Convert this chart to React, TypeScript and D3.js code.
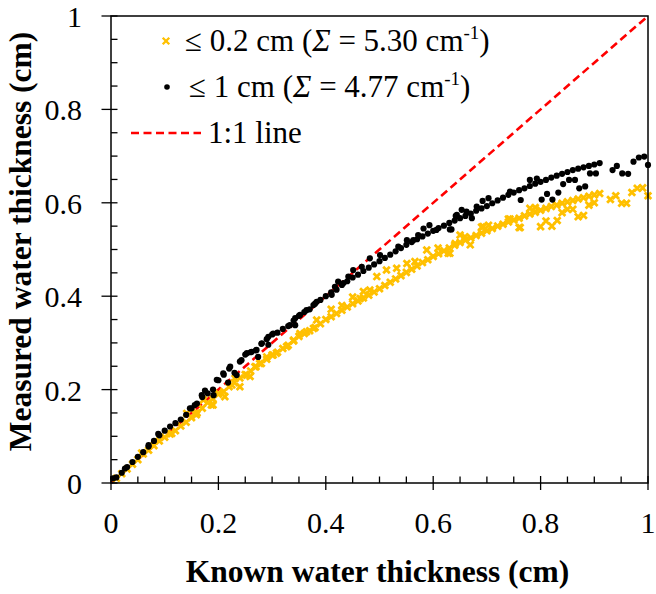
import React from "react";
import * as d3 from "d3";

// ---------- data ----------
const knownThickness = [
  0.01, 0.02, 0.03, 0.04, 0.05, 0.06, 0.07, 0.08, 0.09, 0.1,
  0.11, 0.12, 0.13, 0.14, 0.15, 0.16, 0.17, 0.18, 0.19, 0.2,
  0.21, 0.22, 0.23, 0.24, 0.25, 0.26, 0.27, 0.28, 0.29, 0.3,
  0.31, 0.32, 0.33, 0.34, 0.35, 0.36, 0.37, 0.38, 0.39, 0.4,
  0.41, 0.42, 0.43, 0.44, 0.45, 0.46, 0.47, 0.48, 0.49, 0.5,
  0.51, 0.52, 0.53, 0.54, 0.55, 0.56, 0.57, 0.58, 0.59, 0.6,
  0.61, 0.62, 0.63, 0.64, 0.65, 0.66, 0.67, 0.68, 0.69, 0.7,
  0.71, 0.72, 0.73, 0.74, 0.75, 0.76, 0.77, 0.78, 0.79, 0.8,
  0.81, 0.82, 0.83, 0.84, 0.85, 0.86, 0.87, 0.88, 0.89, 0.9,
  0.91,
];

// <= 0.2 cm calibration (yellow)
const measuredFine = [
  0.010, 0.020, 0.030, 0.040, 0.050, 0.062, 0.070, 0.080, 0.090, 0.098,
  0.105, 0.112, 0.122, 0.130, 0.140, 0.150, 0.160, 0.172, 0.180, 0.190,
  0.196, 0.206, 0.215, 0.225, 0.232, 0.240, 0.249, 0.256, 0.265, 0.274,
  0.280, 0.288, 0.295, 0.304, 0.314, 0.320, 0.326, 0.333, 0.341, 0.350,
  0.356, 0.363, 0.370, 0.377, 0.384, 0.390, 0.396, 0.402, 0.409, 0.416,
  0.423, 0.430, 0.437, 0.444, 0.451, 0.458, 0.465, 0.472, 0.478, 0.485,
  0.491, 0.497, 0.503, 0.509, 0.515, 0.520, 0.525, 0.530, 0.535, 0.540,
  0.545, 0.550, 0.554, 0.559, 0.563, 0.567, 0.572, 0.576, 0.580, 0.584,
  0.588, 0.592, 0.595, 0.599, 0.602, 0.605, 0.608, 0.611, 0.614, 0.617,
  0.620,
];

// <= 1 cm calibration (black)
const measuredCoarse = [
  0.012, 0.022, 0.034, 0.045, 0.056, 0.066, 0.078, 0.090, 0.102, 0.112,
  0.121, 0.128, 0.136, 0.146, 0.160, 0.170, 0.184, 0.192, 0.200, 0.220,
  0.232, 0.245, 0.236, 0.260, 0.275, 0.280, 0.284, 0.298, 0.308, 0.318,
  0.322, 0.330, 0.336, 0.348, 0.358, 0.366, 0.372, 0.384, 0.392, 0.400,
  0.408, 0.414, 0.424, 0.432, 0.440, 0.446, 0.454, 0.461, 0.468, 0.475,
  0.482, 0.489, 0.496, 0.503, 0.510, 0.516, 0.522, 0.528, 0.534, 0.540,
  0.546, 0.551, 0.557, 0.562, 0.567, 0.572, 0.577, 0.583, 0.588, 0.593,
  0.599, 0.605, 0.611, 0.617, 0.622, 0.627, 0.631, 0.636, 0.641, 0.645,
  0.649, 0.654, 0.658, 0.662, 0.666, 0.670, 0.673, 0.676, 0.679, 0.682,
  0.685,
];

// additional scattered readings, <= 0.2 cm (yellow)
const fineExtraX = [
  0.057, 0.113, 0.141, 0.156, 0.159, 0.16, 0.172, 0.187, 0.19, 0.2,
  0.212, 0.225, 0.231, 0.24, 0.253, 0.259, 0.268, 0.277, 0.29, 0.302,
  0.308, 0.327, 0.34, 0.352, 0.364, 0.377, 0.383, 0.41, 0.43, 0.45,
  0.464, 0.47, 0.482, 0.495, 0.513, 0.532, 0.551, 0.566, 0.588, 0.609,
  0.628, 0.631, 0.641, 0.65, 0.659, 0.669, 0.69, 0.693, 0.703, 0.74,
  0.743, 0.76, 0.762, 0.78, 0.79, 0.8, 0.81, 0.821, 0.831, 0.84,
  0.85, 0.86, 0.87, 0.88, 0.89, 0.9, 0.93, 0.94, 0.951, 0.96,
  0.97, 0.98, 0.99, 1.0,
];
const fineExtraY = [
  0.064, 0.106, 0.149, 0.149, 0.146, 0.15, 0.178, 0.167, 0.167, 0.192,
  0.185, 0.21, 0.224, 0.206, 0.231, 0.228, 0.249, 0.256, 0.27, 0.274,
  0.278, 0.292, 0.306, 0.32, 0.324, 0.331, 0.349, 0.372, 0.38, 0.398,
  0.395, 0.41, 0.413, 0.442, 0.456, 0.46, 0.47, 0.474, 0.499, 0.503,
  0.492, 0.492, 0.513, 0.531, 0.527, 0.51, 0.548, 0.549, 0.552, 0.565,
  0.565, 0.547, 0.547, 0.588, 0.59, 0.549, 0.561, 0.55, 0.562, 0.579,
  0.586, 0.586, 0.57, 0.573, 0.595, 0.6, 0.607, 0.615, 0.599, 0.599,
  0.622, 0.631, 0.632, 0.615,
];

// additional scattered readings, <= 1 cm (black)
const coarseExtraX = [
  0.004, 0.026, 0.07, 0.088, 0.147, 0.156, 0.169, 0.175, 0.191, 0.197,
  0.209, 0.218, 0.222, 0.234, 0.243, 0.253, 0.262, 0.271, 0.274, 0.281,
  0.293, 0.293, 0.302, 0.333, 0.343, 0.343, 0.352, 0.364, 0.377, 0.383,
  0.411, 0.417, 0.423, 0.433, 0.442, 0.451, 0.467, 0.482, 0.501, 0.535,
  0.551, 0.563, 0.572, 0.582, 0.593, 0.606, 0.631, 0.634, 0.642, 0.644,
  0.653, 0.662, 0.672, 0.681, 0.692, 0.703, 0.743, 0.763, 0.78, 0.793,
  0.802, 0.812, 0.822, 0.833, 0.842, 0.853, 0.864, 0.872, 0.883, 0.892,
  0.903, 0.934, 0.942, 0.952, 0.963, 0.973, 0.983, 0.993, 1.0,
];
const coarseExtraY = [
  0.01, 0.031, 0.081, 0.105, 0.16, 0.167, 0.188, 0.198, 0.188, 0.221,
  0.235, 0.215, 0.249, 0.231, 0.263, 0.278, 0.281, 0.285, 0.27, 0.299,
  0.313, 0.296, 0.32, 0.338, 0.338, 0.353, 0.36, 0.37, 0.381, 0.388,
  0.403, 0.42, 0.431, 0.428, 0.442, 0.456, 0.463, 0.481, 0.488, 0.506,
  0.52, 0.52, 0.531, 0.545, 0.552, 0.542, 0.543, 0.543, 0.572, 0.574,
  0.585, 0.581, 0.567, 0.592, 0.604, 0.61, 0.624, 0.606, 0.649, 0.652,
  0.607, 0.619, 0.607, 0.622, 0.64, 0.649, 0.649, 0.631, 0.635, 0.663,
  0.663, 0.67, 0.679, 0.663, 0.662, 0.688, 0.697, 0.699, 0.681,
];

const majorTicks = [0, 0.2, 0.4, 0.6, 0.8, 1];
const tickLabels = ["0", "0.2", "0.4", "0.6", "0.8", "1"];

const xTitle = "Known water thickness (cm)";
const yTitle = "Measured water thickness (cm)";

const YELLOW = "#FFC000";
const RED = "#FF0000";
const FONT = "Liberation Serif, Tinos, Times New Roman, Times, serif";

const W = 656;
const H = 594;

export default function App() {
  const x = d3.scaleLinear().domain([0, 1]).range([111, 648]);
  const y = d3.scaleLinear().domain([0, 1]).range([483, 16]);
  const minor = x.ticks(25).filter((t) => !majorTicks.some((m) => Math.abs(m - t) < 1e-9));
  const xSym = d3.symbol(d3.symbolX, 30)() as string;

  const fine = knownThickness
    .map((k, i) => [k, measuredFine[i]])
    .concat(fineExtraX.map((k, i) => [k, fineExtraY[i]]));
  const coarse = knownThickness
    .map((k, i) => [k, measuredCoarse[i]])
    .concat(coarseExtraX.map((k, i) => [k, coarseExtraY[i]]));

  const oneToOne = d3.line<number>().x((d) => x(d)).y((d) => y(d))([0, 1]) as string;

  const x0 = x(0), x1 = x(1), y0 = y(0), y1 = y(1);
  const txt = { fontFamily: FONT };
  const LF = 31;

  return (
    <svg
      width={W}
      height={H}
      style={{ position: "absolute", left: 0, top: 0, background: "#fff", fontFamily: FONT }}
    >
      <rect x={0} y={0} width={W} height={H} fill="#fff" />
      {/* 1:1 line */}
      <path d={oneToOne} stroke={RED} strokeWidth={2.6} strokeDasharray="8,4.5" fill="none" />

      {/* fine series */}
      <g stroke={YELLOW} strokeWidth={2.8} fill="none">
        {fine.map((d, i) => (
          <path key={i} d={xSym} transform={`translate(${x(d[0])},${y(d[1])})`} />
        ))}
      </g>
      {/* coarse series */}
      <g fill="#000">
        {coarse.map((d, i) => (
          <circle key={i} cx={x(d[0])} cy={y(d[1])} r={3.1} />
        ))}
      </g>

      {/* frame */}
      <rect x={x0} y={y1} width={x1 - x0} height={y0 - y1} fill="none" stroke="#000" strokeWidth={1.5} />

      {/* minor ticks */}
      {minor.map((t) => (
        <g key={"m" + t}>
          <line x1={x(t)} x2={x(t)} y1={y0} y2={y0 - 6.5} stroke="#000" strokeWidth={1.3} />
          <line x1={x0} x2={x0 + 6.5} y1={y(t)} y2={y(t)} stroke="#000" strokeWidth={1.3} />
        </g>
      ))}
      {/* major ticks + labels */}
      {majorTicks.map((t, i) => (
        <g key={"M" + t}>
          <line x1={x(t)} x2={x(t)} y1={y0 - 7} y2={y0 + 7} stroke="#000" strokeWidth={1.3} />
          <line x1={x0 - 9.5} x2={x0 + 6.5} y1={y(t)} y2={y(t)} stroke="#000" strokeWidth={1.3} />
          <text style={txt} x={x(t)} y={533} fontSize={30} textAnchor="middle">
            {tickLabels[i]}
          </text>
          <text style={txt} x={82} y={y(t) + 11} fontSize={30} textAnchor="end">
            {tickLabels[i]}
          </text>
        </g>
      ))}

      {/* axis titles */}
      <text style={txt} x={(x0 + x1) / 2 - 2} y={582} fontSize={31.5} fontWeight="bold" textAnchor="middle">
        {xTitle}
      </text>
      <text
        style={txt}
        transform={`translate(31,${(y0 + y1) / 2 - 8}) rotate(-90)`}
        fontSize={31.5}
        fontWeight="bold"
        textAnchor="middle"
      >
        {yTitle}
      </text>

      {/* legend */}
      <path d={xSym} transform="translate(166,41)" stroke={YELLOW} strokeWidth={2.3} fill="none" />
      <text style={txt} x={185} y={51} fontSize={LF}>
        {"≤ 0.2 cm ("}
        <tspan fontStyle="italic">{"Σ"}</tspan>
        {" = 5.30 cm"}
        <tspan dy={-12} fontSize={19}>{"-1"}</tspan>
        <tspan dy={12}>{")"}</tspan>
      </text>
      <circle cx={167} cy={87} r={2.8} fill="#000" />
      <text style={txt} x={189} y={97} fontSize={LF}>
        {"≤ 1 cm ("}
        <tspan fontStyle="italic">{"Σ"}</tspan>
        {" = 4.77 cm"}
        <tspan dy={-12} fontSize={19}>{"-1"}</tspan>
        <tspan dy={12}>{")"}</tspan>
      </text>
      <line x1={131} x2={201} y1={133} y2={133} stroke={RED} strokeWidth={2.6} strokeDasharray="8,4.5" />
      <text style={txt} x={208} y={143} fontSize={LF}>
        {"1:1 line"}
      </text>
    </svg>
  );
}
